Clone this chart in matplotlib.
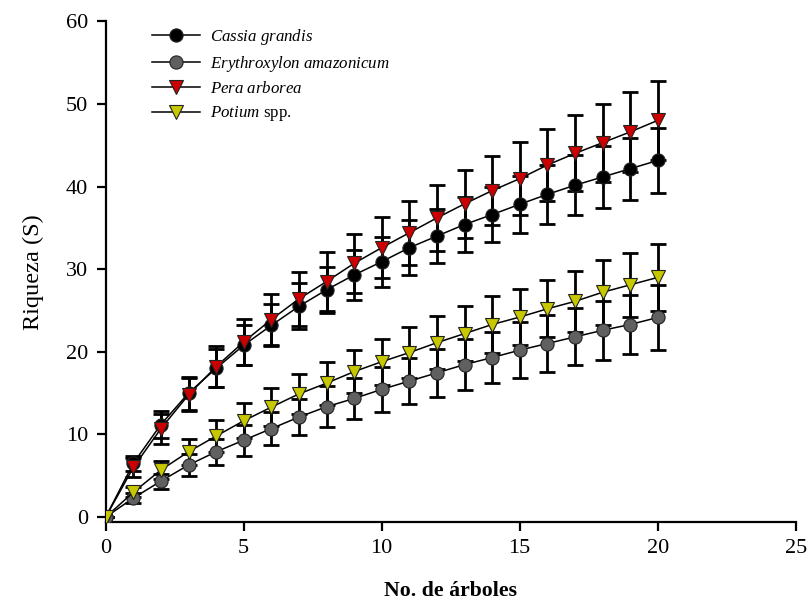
import matplotlib
matplotlib.use("Agg")
import matplotlib.pyplot as plt
import numpy as np

plt.rcParams["font.family"] = ["Liberation Serif", "DejaVu Serif"]
plt.rcParams["mathtext.fontset"] = "custom"
plt.rcParams["mathtext.rm"] = "Liberation Serif"
plt.rcParams["mathtext.it"] = "Liberation Serif:italic"

arboles = np.arange(0, 21)

cassia = [0, 6.5, 11.2, 15.0, 18.0, 20.8, 23.2, 25.5, 27.5, 29.3, 30.9,
          32.6, 34.0, 35.4, 36.6, 37.85, 39.05, 40.15, 41.15, 42.15, 43.15]
cassia_err = [0, 0.9, 1.6, 2.0, 2.3, 2.4, 2.55, 2.8, 2.8, 3.0, 3.05,
              3.3, 3.25, 3.3, 3.3, 3.45, 3.55, 3.65, 3.75, 3.75, 3.95]

erythro = [0, 2.3, 4.35, 6.3, 7.9, 9.3, 10.7, 12.1, 13.35, 14.35, 15.45,
           16.45, 17.45, 18.45, 19.3, 20.2, 21.0, 21.8, 22.6, 23.3, 24.15]
erythro_err = [0, 0.6, 0.9, 1.3, 1.6, 1.9, 2.0, 2.2, 2.45, 2.45, 2.7,
               2.8, 2.9, 3.1, 3.1, 3.35, 3.4, 3.45, 3.6, 3.6, 3.95]

pera = [0, 6.0, 10.7, 14.8, 18.2, 21.2, 23.9, 26.4, 28.5, 30.7, 32.6,
        34.4, 36.2, 37.9, 39.5, 40.95, 42.6, 44.0, 45.3, 46.6, 48.0]
pera_err = [0, 1.2, 1.8, 2.0, 2.5, 2.8, 3.1, 3.3, 3.6, 3.6, 3.7,
            3.85, 4.0, 4.1, 4.2, 4.45, 4.4, 4.6, 4.7, 4.8, 4.8]

potium = [0, 3.0, 5.7, 7.9, 9.8, 11.65, 13.3, 14.9, 16.2, 17.6, 18.8,
          19.9, 21.1, 22.2, 23.3, 24.2, 25.2, 26.1, 27.2, 28.1, 29.0]
potium_err = [0, 0.6, 1.1, 1.6, 1.9, 2.1, 2.3, 2.4, 2.6, 2.6, 2.8,
              3.1, 3.2, 3.3, 3.4, 3.4, 3.45, 3.7, 3.9, 3.9, 4.1]

series = [
    (r"$\mathit{Cassia\ grandis}$", cassia, cassia_err, "o", "#000000"),
    (r"$\mathit{Erythroxylon\ amazonicum}$", erythro, erythro_err, "o", "#606060"),
    (r"$\mathit{Pera\ arborea}$", pera, pera_err, "v", "#cc0000"),
    (r"$\mathit{Potium}$ spp.", potium, potium_err, "v", "#c8c800"),
]

fig = plt.figure(figsize=(8.07, 6.07), dpi=100)
ax = fig.add_axes([0.131, 0.14, 0.855, 0.825])

for label, y, err, mk, col in series:
    ax.errorbar(arboles, y, yerr=err, fmt="none", ecolor="black",
                elinewidth=2, capsize=5.5, capthick=2, zorder=2)
for label, y, err, mk, col in series:
    ax.plot(arboles, y, color="black", lw=1.1, marker=mk, markersize=9.5,
            markerfacecolor=col, markeredgecolor="#222222",
            markeredgewidth=0.8, label=label, zorder=3)

ax.set_xlim(0, 25)
ax.set_ylim(-0.6, 60)
ax.set_xticks(range(0, 26, 5))
ax.set_yticks(range(0, 61, 10))

for s in ["top", "right"]:
    ax.spines[s].set_visible(False)
for s in ["left", "bottom"]:
    ax.spines[s].set_linewidth(1.6)
ax.tick_params(direction="out", length=6.5, width=1.6, labelsize=16, pad=6)

ax.set_xlabel("No. de árboles", fontsize=15.7, fontweight="bold", labelpad=16)
ax.set_ylabel("Riqueza (S)", fontsize=17.5, labelpad=16)

ax.legend(loc="upper left", bbox_to_anchor=(0.05, 1.012), frameon=False,
          fontsize=12.2, handlelength=2.8, labelspacing=0.42,
          handletextpad=0.6, borderaxespad=0.3)

plt.savefig("out.png", dpi=100)
